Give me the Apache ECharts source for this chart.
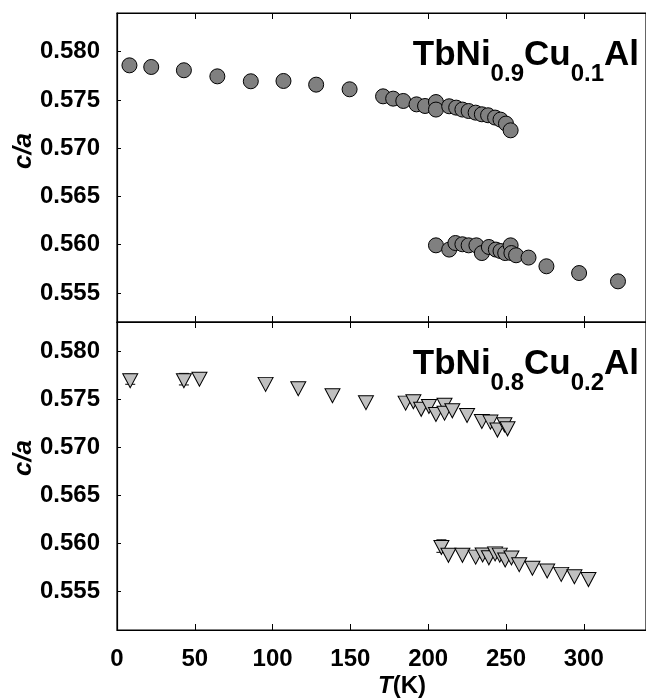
<!DOCTYPE html>
<html><head><meta charset="utf-8">
<script src="https://cdn.jsdelivr.net/npm/echarts@6/dist/echarts.min.js"></script>
<style>html,body{margin:0;padding:0;background:#fff}#c{width:646px;height:698px}</style>
</head><body><div id="c"></div>
<script>
// ---- data ----
const xTicks = [0, 50, 100, 150, 200, 250, 300];
const yTicks = [0.555, 0.560, 0.565, 0.570, 0.575, 0.580];

// TbNi0.9Cu0.1Al  (circles)
const cu01_T  = [8, 22, 43, 64.5, 86, 107, 128, 149.5, 171, 177.5, 184, 192.5, 198, 205, 205, 213.5, 218, 222, 226, 230.5, 234.5, 238.5, 243, 246.5, 250, 253,
                 205, 213.5, 217.5, 222, 226, 231, 234.5, 239, 243.5, 246.5, 249.5, 253, 253.5, 256.5, 264.5, 276, 297, 322];
const cu01_ca = [0.57858, 0.57841, 0.57807, 0.57744, 0.57693, 0.57696, 0.57658, 0.57610, 0.57537, 0.57513, 0.57489, 0.57454, 0.57437, 0.57478, 0.57400, 0.57434, 0.57420, 0.57400, 0.57385, 0.57368, 0.57351, 0.57341, 0.57317, 0.57296, 0.57255, 0.57185,
                 0.55994, 0.55950, 0.56018, 0.56005, 0.55994, 0.55994, 0.55914, 0.55977, 0.55950, 0.55935, 0.55914, 0.55994, 0.55914, 0.55891, 0.55867, 0.55777, 0.55707, 0.55621];

// TbNi0.8Cu0.2Al  (triangles)
const cu02_T  = [8.5, 43, 53, 95.5, 116.5, 138.5, 160,
                 185.5, 190.5, 195.5, 200.5, 205, 210.5, 210.5, 215.5, 225, 234.5, 240, 244.5, 249, 251,
                 208.5, 213, 222, 230.5, 235, 239, 243, 246, 249.5, 253.5, 258.5, 267, 276.5, 285.5, 294, 303];
const cu02_ca = [0.57690, 0.57690, 0.57705, 0.57652, 0.57607, 0.57534, 0.57462,
                 0.57457, 0.57471, 0.57393, 0.57422, 0.57339, 0.57436, 0.57353, 0.57377, 0.57329, 0.57266, 0.57260, 0.57177, 0.57232, 0.57190,
                 0.55957, 0.55876, 0.55876, 0.55857, 0.55880, 0.55850, 0.55891, 0.55878, 0.55828, 0.55849, 0.55779, 0.55742, 0.55713, 0.55678, 0.55654, 0.55624];

// error bars (bottom panel)
const err_T  = [8.5, 43, 208.5];
const err_ca = [0.57705, 0.57706, 0.55972];
const err_d  = [0.00052, 0.00060, 0.00065];

const compoundParts = [['TbNi', '0.9', 'Cu', '0.1', 'Al'], ['TbNi', '0.8', 'Cu', '0.2', 'Al']];
const yName = 'c/a';
const xNameParts = ['T', '(K)'];

// ---- chart ----
const FONT = 'Liberation Sans, Arial, Helvetica, sans-serif';
const pairs = (xs, ys) => xs.map((x, i) => [x, ys[i]]);
const richTitle = p => `{m|${p[0]}}{s|${p[1]}}{m|${p[2]}}{s|${p[3]}}{m|${p[4]}}`;

const X_MAX = 340;
const gridBase = {left: 117, width: 548, show: true, borderColor: '#000', borderWidth: 1.2, backgroundColor: 'transparent'};

function xAx(gi, pos, labels) {
  return {
    type: 'value', gridIndex: gi, position: pos, min: 0, max: X_MAX,
    axisLine: {show: true, lineStyle: {color: '#000', width: 1.2}},
    axisTick: {show: true, inside: true, length: 6, customValues: xTicks, lineStyle: {color: '#000', width: 1}},
    axisLabel: {show: labels, customValues: xTicks, margin: 17, color: '#000', fontFamily: FONT, fontWeight: 'bold', fontSize: 24},
    splitLine: {show: false}
  };
}
function yAx(gi, mn, mx) {
  return {
    type: 'value', gridIndex: gi, min: mn, max: mx,
    axisLine: {show: true, lineStyle: {color: '#000', width: 1.2}},
    axisTick: {show: true, inside: true, length: 4, customValues: yTicks, lineStyle: {color: '#000', width: 1}},
    axisLabel: {show: true, customValues: yTicks, margin: 17, color: '#000', fontFamily: FONT, fontWeight: 'bold', fontSize: 24,
                formatter: v => v.toFixed(3)},
    splitLine: {show: false}
  };
}
const titleRich = {
  m: {fontSize: 35, fontWeight: 'bold', fontFamily: FONT, color: '#000', verticalAlign: 'bottom', lineHeight: 35, padding: [0, 0, 13, 0]},
  s: {fontSize: 24, fontWeight: 'bold', fontFamily: FONT, color: '#000', verticalAlign: 'bottom', lineHeight: 24}
};

function errRender(params, api) {
  const x = api.value(0), y = api.value(1), d = api.value(2);
  const p1 = api.coord([x, y + d]), p2 = api.coord([x, y - d]);
  const st = {stroke: '#000', lineWidth: 1};
  return {type: 'group', children: [
    {type: 'line', shape: {x1: p1[0], y1: p1[1], x2: p2[0], y2: p2[1]}, style: st},
    {type: 'line', shape: {x1: p1[0] - 5, y1: p1[1], x2: p1[0] + 5, y2: p1[1]}, style: st},
    {type: 'line', shape: {x1: p2[0] - 5, y1: p2[1], x2: p2[0] + 5, y2: p2[1]}, style: st}
  ]};
}

const chart = echarts.init(document.getElementById('c'), null, {renderer: 'canvas'});
chart.setOption({
  animation: false,
  backgroundColor: '#fff',
  title: [
    {text: richTitle(compoundParts[0]), right: 7, top: 51, padding: 0, textStyle: {rich: titleRich}},
    {text: richTitle(compoundParts[1]), right: 7, top: 360, padding: 0, textStyle: {rich: titleRich}}
  ],
  grid: [
    Object.assign({top: 13, height: 309}, gridBase),
    Object.assign({top: 322, height: 308}, gridBase)
  ],
  xAxis: [xAx(0, 'bottom', false), xAx(0, 'top', false), xAx(1, 'bottom', true), xAx(1, 'top', false)],
  yAxis: [yAx(0, 0.552, 0.584), yAx(1, 0.551, 0.583)],
  graphic: [
    {type: 'text', x: 24, y: 151, rotation: Math.PI / 2,
     style: {text: yName, font: 'italic bold 26px ' + FONT, fill: '#000', align: 'center', verticalAlign: 'middle'}},
    {type: 'text', x: 24, y: 458, rotation: Math.PI / 2,
     style: {text: yName, font: 'italic bold 26px ' + FONT, fill: '#000', align: 'center', verticalAlign: 'middle'}},
    {type: 'text', x: 402, y: 686,
     style: {text: `{i|${xNameParts[0]}}{n|${xNameParts[1]}}`, align: 'center', verticalAlign: 'middle',
             rich: {i: {font: 'italic bold 24px ' + FONT, fill: '#000'}, n: {font: 'bold 24px ' + FONT, fill: '#000'}}}}
  ],
  series: [
    {type: 'custom', xAxisIndex: 2, yAxisIndex: 1, renderItem: errRender,
     data: err_T.map((t, i) => [t, err_ca[i], err_d[i]]), z: 1},
    {type: 'scatter', xAxisIndex: 0, yAxisIndex: 0, data: pairs(cu01_T, cu01_ca),
     symbol: 'circle', symbolSize: 15,
     itemStyle: {color: '#808080', borderColor: '#000', borderWidth: 1, opacity: 1}, z: 2},
    {type: 'scatter', xAxisIndex: 2, yAxisIndex: 1, data: pairs(cu02_T, cu02_ca),
     symbol: 'triangle', symbolRotate: 180, symbolSize: [15, 14],
     itemStyle: {color: '#c0c0c0', borderColor: '#000', borderWidth: 1, opacity: 1}, z: 2}
  ]
});
</script></body></html>
